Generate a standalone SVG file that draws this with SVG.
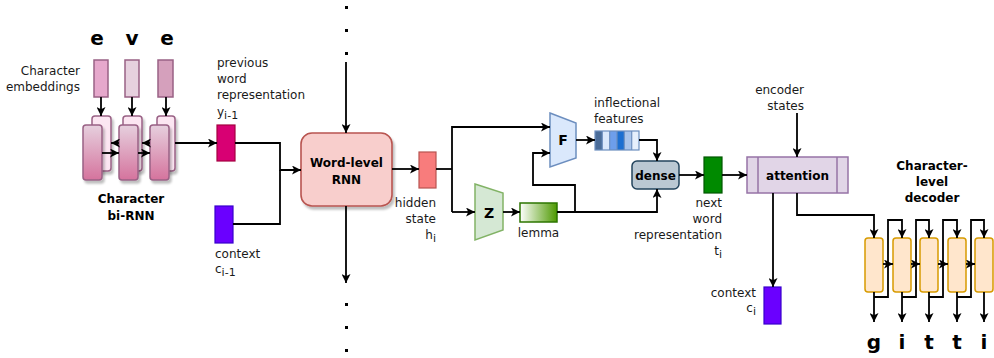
<svg xmlns="http://www.w3.org/2000/svg" width="994" height="358" viewBox="0 0 994 358">
<defs>
<style>
text{font-family:"DejaVu Sans","Liberation Sans",sans-serif;fill:#1a1a1a}
.lbl{font-size:12px}
.b{font-weight:bold;font-size:12px;fill:#000}
.fz{font-weight:bold;font-size:14px;fill:#000}
.big{font-weight:bold;font-size:20px;fill:#000}
.ln{fill:none;stroke:#000;stroke-width:1.8}
.emb{stroke:#996185;stroke-width:1.5}
.back{fill:#fce6f2;stroke:#996185;stroke-width:1.5}
.front{fill:url(#gpink);stroke:#996185;stroke-width:1.5}
.dec{fill:#ffe6cc;stroke:#d79b00;stroke-width:1.5}
.dot{fill:#000}
</style>
<linearGradient id="gpink" x1="0" y1="0" x2="0" y2="1">
<stop offset="0" stop-color="#e6d0de"/><stop offset="1" stop-color="#d5739d"/>
</linearGradient>
<linearGradient id="ggreen" x1="0" y1="0" x2="1" y2="0">
<stop offset="0" stop-color="#ffffff"/><stop offset="1" stop-color="#4d9900"/>
</linearGradient>
<filter id="sh" x="-20%" y="-20%" width="150%" height="150%">
<feDropShadow dx="2" dy="3" stdDeviation="1.2" flood-color="#000" flood-opacity="0.25"/>
</filter>
<marker id="ar" viewBox="0 0 10 10" refX="10" refY="5" markerWidth="9" markerHeight="9" markerUnits="userSpaceOnUse" orient="auto">
<path d="M0,0 L10,5 L0,10 L2.5,5 z" fill="#000"/>
</marker>
</defs>

<g id="char-letters">
<text class="big" x="97" y="45" text-anchor="middle">e</text>
<text class="big" x="132" y="45" text-anchor="middle">v</text>
<text class="big" x="167" y="45" text-anchor="middle">e</text>
</g>
<g id="char-emb-label">
<text class="lbl" x="80" y="75" text-anchor="end">Character</text>
<text class="lbl" x="80" y="91" text-anchor="end">embeddings</text>
</g>
<g id="emb1"><rect class="emb" x="94" y="60" width="14" height="37" fill="#e6a8cc"/></g>
<g id="emb2"><rect class="emb" x="125" y="60" width="14" height="37" fill="#e6d0de"/></g>
<g id="emb3"><rect class="emb" x="158" y="60" width="15" height="37" fill="#d5a0bc"/></g>

<g id="char-birnn">
<rect class="back" x="92" y="116" width="19" height="55" rx="3" filter="url(#sh)"/>
<rect class="back" x="123" y="116" width="19" height="55" rx="3" filter="url(#sh)"/>
<rect class="back" x="157" y="116" width="18" height="55" rx="3" filter="url(#sh)"/>
<rect class="front" x="83" y="125" width="19" height="55" rx="3" filter="url(#sh)"/>
<rect class="front" x="119" y="125" width="19" height="55" rx="3" filter="url(#sh)"/>
<rect class="front" x="150" y="125" width="19" height="55" rx="3" filter="url(#sh)"/>
<text class="b" x="131" y="203" text-anchor="middle">Character</text>
<text class="b" x="131" y="220" text-anchor="middle">bi-RNN</text>
</g>

<g id="prev-word">
<rect x="217" y="125" width="18" height="36" fill="#d80073" stroke="#a50040" stroke-width="1.2"/>
<text class="lbl" x="217" y="67">previous</text>
<text class="lbl" x="217" y="83">word</text>
<text class="lbl" x="217" y="99">representation</text>
<text class="lbl" x="217" y="116">y<tspan font-size="11" dy="3">i-1</tspan></text>
</g>

<g id="context-prev">
<rect x="215" y="206" width="18" height="37" fill="#6a00ff" stroke="#3700cc" stroke-width="1.2"/>
<text class="lbl" x="215" y="258">context</text>
<text class="lbl" x="215" y="273">c<tspan font-size="11" dy="3">i-1</tspan></text>
</g>

<g id="word-rnn">
<rect x="301" y="133" width="91" height="73" rx="11" fill="#f8cecc" stroke="#b85450" stroke-width="1.6" filter="url(#sh)"/>
<text class="b" x="346.5" y="167" text-anchor="middle">Word-level</text>
<text class="b" x="346.5" y="184" text-anchor="middle">RNN</text>
</g>

<g id="dots">
<rect class="dot" x="345" y="6" width="3" height="3"/>
<rect class="dot" x="345" y="29" width="3" height="3"/>
<rect class="dot" x="345" y="52" width="3" height="3"/>
<rect class="dot" x="345" y="303" width="3" height="3"/>
<rect class="dot" x="345" y="326" width="3" height="3"/>
<rect class="dot" x="345" y="349" width="3" height="3"/>
</g>

<g id="hidden-state">
<rect x="419" y="152" width="17" height="36" fill="#f87c7c" stroke="#b85450" stroke-width="1.2"/>
<text class="lbl" x="436" y="207" text-anchor="end">hidden</text>
<text class="lbl" x="436" y="223" text-anchor="end">state</text>
<text class="lbl" x="436" y="239" text-anchor="end">h<tspan font-size="11" dy="3">i</tspan></text>
</g>

<g id="F">
<polygon points="550,113 576,123 576,158 550,167" fill="#dae8fc" stroke="#6c8ebf" stroke-width="1.5"/>
<text class="fz" x="563" y="145" text-anchor="middle">F</text>
</g>

<g id="Z">
<polygon points="475,184 503,193 503,230 475,240" fill="#d5e8d4" stroke="#82b366" stroke-width="1.5"/>
<text class="fz" x="489" y="218" text-anchor="middle">Z</text>
</g>

<g id="lemma">
<rect x="520" y="203" width="37" height="19" fill="url(#ggreen)" stroke="#2d7600" stroke-width="1.5"/>
<text class="lbl" x="538.5" y="237" text-anchor="middle">lemma</text>
</g>

<g id="infl-features">
<rect x="595" y="131" width="7.3" height="19" fill="#4a6c99"/>
<rect x="602.3" y="131" width="7.3" height="19" fill="#dae8fc"/>
<rect x="609.7" y="131" width="7.3" height="19" fill="#6d9eeb"/>
<rect x="617" y="131" width="7.3" height="19" fill="#1c6fd1"/>
<rect x="624.3" y="131" width="7.3" height="19" fill="#a9c4eb"/>
<rect x="631.7" y="131" width="7.3" height="19" fill="#e6effc"/>
<g fill="none" stroke="#6c8ebf" stroke-width="1.2">
<rect x="595" y="131" width="44" height="19"/>
<line x1="602.3" y1="131" x2="602.3" y2="150"/>
<line x1="609.7" y1="131" x2="609.7" y2="150"/>
<line x1="617" y1="131" x2="617" y2="150"/>
<line x1="624.3" y1="131" x2="624.3" y2="150"/>
<line x1="631.7" y1="131" x2="631.7" y2="150"/>
</g>
<text class="lbl" x="594" y="107">inflectional</text>
<text class="lbl" x="594" y="123">features</text>
</g>

<g id="dense">
<rect x="632" y="161" width="47" height="28" rx="5" fill="#bac8d3" stroke="#23445d" stroke-width="1.5"/>
<text class="b" x="655.5" y="180" text-anchor="middle">dense</text>
</g>

<g id="next-word">
<rect x="704" y="157" width="18" height="36" fill="#008a00" stroke="#005700" stroke-width="1.2"/>
<text class="lbl" x="722" y="207" text-anchor="end">next</text>
<text class="lbl" x="722" y="223" text-anchor="end">word</text>
<text class="lbl" x="722" y="239" text-anchor="end">representation</text>
<text class="lbl" x="722" y="255" text-anchor="end">t<tspan font-size="11" dy="3">i</tspan></text>
</g>

<g id="attention">
<rect x="747" y="157" width="101" height="36" fill="#e1d5e7" stroke="#9673a6" stroke-width="1.5"/>
<line x1="758" y1="157" x2="758" y2="193" stroke="#9673a6" stroke-width="1.5"/>
<line x1="837" y1="157" x2="837" y2="193" stroke="#9673a6" stroke-width="1.5"/>
<text class="b" x="797.5" y="180" text-anchor="middle">attention</text>
</g>

<g id="encoder-states">
<text class="lbl" x="804" y="94" text-anchor="end">encoder</text>
<text class="lbl" x="804" y="110" text-anchor="end">states</text>
</g>

<g id="context-cur">
<rect x="764" y="287" width="17" height="37" fill="#6a00ff" stroke="#3700cc" stroke-width="1.2"/>
<text class="lbl" x="756" y="297" text-anchor="end">context</text>
<text class="lbl" x="756" y="312" text-anchor="end">c<tspan font-size="11" dy="3">i</tspan></text>
</g>

<g id="char-decoder">
<rect class="dec" x="865" y="238" width="18" height="54" rx="3"/>
<rect class="dec" x="893" y="238" width="18" height="54" rx="3"/>
<rect class="dec" x="920" y="238" width="18" height="54" rx="3"/>
<rect class="dec" x="948" y="238" width="18" height="54" rx="3"/>
<rect class="dec" x="975" y="238" width="18" height="54" rx="3"/>
<text class="b" x="932" y="170" text-anchor="middle">Character-</text>
<text class="b" x="932" y="186" text-anchor="middle">level</text>
<text class="b" x="932" y="202" text-anchor="middle">decoder</text>
</g>

<g id="out-letters">
<text class="big" x="874" y="349" text-anchor="middle">g</text>
<text class="big" x="902" y="349" text-anchor="middle">i</text>
<text class="big" x="929" y="349" text-anchor="middle">t</text>
<text class="big" x="957" y="349" text-anchor="middle">t</text>
<text class="big" x="984" y="349" text-anchor="middle">i</text>
</g>

<g id="connectors">
<path class="ln" d="M101,97 V116" marker-end="url(#ar)"/>
<path class="ln" d="M132,97 V116" marker-end="url(#ar)"/>
<path class="ln" d="M166,97 V116" marker-end="url(#ar)"/>
<path class="ln" d="M102,153 H119" marker-end="url(#ar)"/>
<path class="ln" d="M138,153 H150" marker-end="url(#ar)"/>
<path class="ln" d="M119,143 H111" marker-end="url(#ar)"/>
<path class="ln" d="M150,143 H142" marker-end="url(#ar)"/>
<path class="ln" d="M175,143 H217" marker-end="url(#ar)"/>
<path class="ln" d="M235,143 H280 V170 H301" marker-end="url(#ar)"/>
<path class="ln" d="M233,224 H280 V170"/>
<path class="ln" d="M346,62 V133" marker-end="url(#ar)"/>
<path class="ln" d="M346,206 V283" marker-end="url(#ar)"/>
<path class="ln" d="M392,169 H419" marker-end="url(#ar)"/>
<path class="ln" d="M436,169 H452"/>
<path class="ln" d="M452,212 V127 H550" marker-end="url(#ar)"/>
<path class="ln" d="M452,212 H475" marker-end="url(#ar)"/>
<path class="ln" d="M503,212 H520" marker-end="url(#ar)"/>
<path class="ln" d="M557,212 H657 V189" marker-end="url(#ar)"/>
<path class="ln" d="M575,212 V185 H533 V153 H550" marker-end="url(#ar)"/>
<path class="ln" d="M576,140 H595" marker-end="url(#ar)"/>
<path class="ln" d="M639,140 H657 V161" marker-end="url(#ar)"/>
<path class="ln" d="M679,175 H704" marker-end="url(#ar)"/>
<path class="ln" d="M722,175 H747" marker-end="url(#ar)"/>
<path class="ln" d="M797,113 V157" marker-end="url(#ar)"/>
<path class="ln" d="M773,193 V287" marker-end="url(#ar)"/>
<path class="ln" d="M797,193 V215 H874 V238" marker-end="url(#ar)"/>
<path class="ln" d="M883,264 H893" marker-end="url(#ar)"/>
<path class="ln" d="M911,264 H920" marker-end="url(#ar)"/>
<path class="ln" d="M938,264 H948" marker-end="url(#ar)"/>
<path class="ln" d="M966,264 H975" marker-end="url(#ar)"/>
<path class="ln" d="M874,292 V322" marker-end="url(#ar)"/>
<path class="ln" d="M902,292 V322" marker-end="url(#ar)"/>
<path class="ln" d="M929,292 V322" marker-end="url(#ar)"/>
<path class="ln" d="M957,292 V322" marker-end="url(#ar)"/>
<path class="ln" d="M984,292 V322" marker-end="url(#ar)"/>
<path class="ln" d="M874,297 H888 V220 H902 V238" marker-end="url(#ar)"/>
<path class="ln" d="M902,297 H916 V220 H929 V238" marker-end="url(#ar)"/>
<path class="ln" d="M929,297 H943 V220 H957 V238" marker-end="url(#ar)"/>
<path class="ln" d="M957,297 H971 V220 H984 V238" marker-end="url(#ar)"/>
</g>
</svg>
